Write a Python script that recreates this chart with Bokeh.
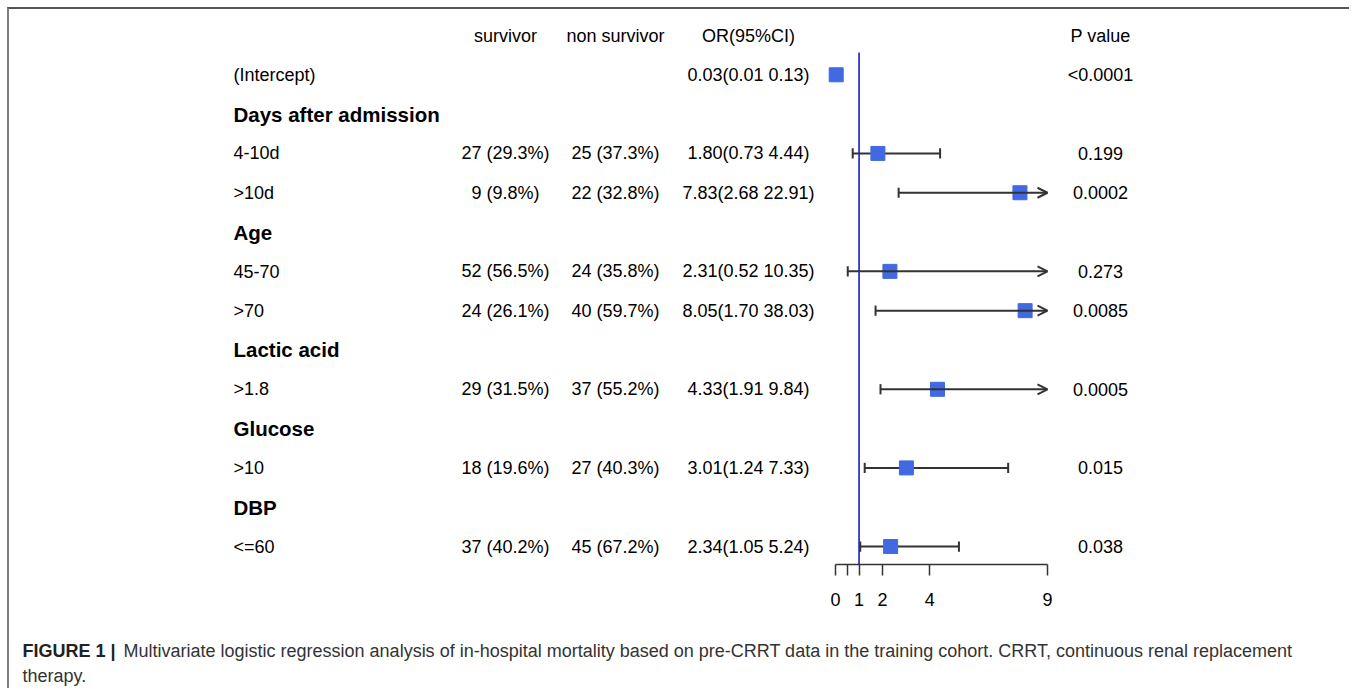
from bokeh.plotting import figure
from bokeh.layouts import column
from bokeh.models import (Range1d, LinearAxis, FixedTicker, ColumnDataSource,
                          Arrow, OpenHead)
from bokeh.core.properties import value
from bokeh.embed import file_html
from bokeh.resources import INLINE

# ---------------- data ----------------
headers = ["survivor", "non survivor", "OR(95%CI)", "P value"]
row_labels = ["(Intercept)", "Days after admission", "4-10d", ">10d", "Age",
              "45-70", ">70", "Lactic acid", " >1.8", "Glucose", " >10", "DBP", "<=60"]
row_bold = [False, True, False, False, True, False, False, True, False, True, False, True, False]
survivor = ["", "", "27 (29.3%)", "9 (9.8%)", "", "52 (56.5%)", "24 (26.1%)", "",
            "29 (31.5%)", "", "18 (19.6%)", "", "37 (40.2%)"]
non_survivor = ["", "", "25 (37.3%)", "22 (32.8%)", "", "24 (35.8%)", "40 (59.7%)", "",
                "37 (55.2%)", "", "27 (40.3%)", "", "45 (67.2%)"]
p_values = ["<0.0001", "", "0.199", "0.0002", "", "0.273", "0.0085", "",
            "0.0005", "", "0.015", "", "0.038"]

# estimates (row index in row_labels)
est_rows = [0, 2, 3, 5, 6, 8, 10, 12]
or_est = [0.03, 1.80, 7.83, 2.31, 8.05, 4.33, 3.01, 2.34]
or_low = [0.01, 0.73, 2.68, 0.52, 1.70, 1.91, 1.24, 1.05]
or_high = [0.13, 4.44, 22.91, 10.35, 38.03, 9.84, 7.33, 5.24]

axis_ticks = [0, 0.5, 1, 2, 4, 9]
axis_max = 9

caption_bold = "FIGURE 1 |"
caption_line1 = ("Multivariate logistic regression analysis of in-hospital mortality based on "
                 "pre-CRRT data in the training cohort. CRRT, continuous renal replacement")
caption_line2 = "therapy."

# ---------------- layout geometry ----------------
W = 1340
H1, frame_h = 611, 555
H2 = 68
s = 212 / 9.0            # px per OR unit
x0_px = 826              # canvas px of OR = 0
row_h = 39.31
row0_px = 26             # canvas px (from top) of header row


def xd(px):              # canvas px -> data x
    return (px - x0_px) / s


def yd(px):              # canvas px from top -> row coordinate
    return (px - row0_px) / row_h


FONT = "Liberation Sans"
p = figure(width=W, height=H1, output_backend="svg", toolbar_location=None,
           x_range=Range1d(xd(0), xd(W)),
           y_range=Range1d(yd(frame_h), yd(0)),
           x_axis_location=None, y_axis_location=None,
           min_border_left=0, min_border_right=0, min_border_top=0,
           min_border_bottom=H1 - frame_h)
p.xgrid.visible = False
p.ygrid.visible = False
p.outline_line_color = None
p.background_fill_color = "white"
p.border_fill_color = "white"

# ---------------- table text ----------------
n = len(row_labels)
rows = list(range(1, n + 1))
col_survivor = xd(496)
col_nonsurv = xd(606)
col_or = xd(739)
col_p = xd(1091)
col_label = xd(224)

p.text(x=[col_survivor, col_nonsurv, col_or, col_p], y=[0, 0, 0, 0], text=headers,
       text_align="center", text_baseline="middle", text_font=value(FONT),
       text_font_size="18px", text_color="black")

reg_rows = [r for r, b in zip(rows, row_bold) if not b]
reg_labels = [l for l, b in zip(row_labels, row_bold) if not b]
bold_rows = [r for r, b in zip(rows, row_bold) if b]
bold_labels = [l for l, b in zip(row_labels, row_bold) if b]
p.text(x=[col_label] * len(reg_rows), y=reg_rows, text=reg_labels, text_align="left",
       text_baseline="middle", text_font=value(FONT), text_font_size="18px", text_color="black")
p.text(x=[col_label] * len(bold_rows), y=bold_rows, text=bold_labels, text_align="left",
       text_baseline="middle", text_font=value(FONT), text_font_size="20.5px",
       text_font_style="bold", text_color="black")

p.text(x=[col_survivor] * n, y=rows, text=survivor, text_align="center",
       text_baseline="middle", text_font=value(FONT), text_font_size="18px", text_color="black")
p.text(x=[col_nonsurv] * n, y=rows, text=non_survivor, text_align="center",
       text_baseline="middle", text_font=value(FONT), text_font_size="18px", text_color="black")
p.text(x=[col_p] * n, y=rows, text=p_values, text_align="center",
       text_baseline="middle", text_font=value(FONT), text_font_size="18px", text_color="black")

or_text = [f"{e:.2f}({lo:.2f} {hi:.2f})" for e, lo, hi in zip(or_est, or_low, or_high)]
est_y = [r + 1 for r in est_rows]
p.text(x=[col_or] * len(est_y), y=est_y, text=or_text, text_align="center",
       text_baseline="middle", text_font=value(FONT), text_font_size="18px", text_color="black")

# ---------------- forest ----------------
LINE = "#333333"
lo_draw = [max(v, 0) for v in or_low]
hi_draw = [min(v, axis_max) for v in or_high]
clipped = [v > axis_max for v in or_high]

# reference line at OR = 1
p.segment(x0=[1], y0=[yd(43)], x1=[1], y1=[yd(frame_h)], line_color="#1a1ac8", line_width=1.6)

in_idx = [i for i, c in enumerate(clipped) if not c]
p.segment(x0=[lo_draw[i] for i in in_idx], y0=[est_y[i] for i in in_idx],
          x1=[hi_draw[i] for i in in_idx], y1=[est_y[i] for i in in_idx],
          line_color=LINE, line_width=2)
cap = 0.13
p.segment(x0=lo_draw, y0=[y - cap for y in est_y], x1=lo_draw, y1=[y + cap for y in est_y],
          line_color=LINE, line_width=2)
p.segment(x0=[hi_draw[i] for i in in_idx], y0=[est_y[i] - cap for i in in_idx],
          x1=[hi_draw[i] for i in in_idx], y1=[est_y[i] + cap for i in in_idx],
          line_color=LINE, line_width=2)

out_idx = [i for i, c in enumerate(clipped) if c]
arr_src = ColumnDataSource(dict(xs=[lo_draw[i] for i in out_idx],
                                xe=[hi_draw[i] for i in out_idx],
                                y=[est_y[i] for i in out_idx]))
p.add_layout(Arrow(x_start="xs", y_start="y", x_end="xe", y_end="y", source=arr_src,
                   line_color=LINE, line_width=2,
                   end=OpenHead(size=10, line_color=LINE, line_width=2)))

p.scatter(x=or_est, y=est_y, marker="square", size=14, fill_color="#4169e1",
          line_color="#4169e1")

# ---------------- axis ----------------
ax = LinearAxis(ticker=FixedTicker(ticks=axis_ticks), bounds=(0, axis_max),
                major_label_overrides={0.5: ""},
                axis_line_color=LINE, axis_line_width=1.5,
                major_tick_line_color=LINE, major_tick_line_width=1.5,
                major_tick_out=11, major_tick_in=0,
                minor_tick_out=0, minor_tick_in=0,
                major_label_text_font=FONT, major_label_text_font_size="18px",
                major_label_text_color="black", major_label_standoff=17)
p.add_layout(ax, "below")

# ---------------- caption ----------------
c = figure(width=W, height=H2, output_backend="svg", toolbar_location=None,
           x_range=Range1d(0, W), y_range=Range1d(H2, 0),
           x_axis_location=None, y_axis_location=None,
           min_border_left=0, min_border_right=0, min_border_top=0, min_border_bottom=0)
c.xgrid.visible = False
c.ygrid.visible = False
c.outline_line_color = None
c.text(x=[13], y=[30], text=[caption_bold], text_font=value(FONT), text_font_size="18px",
       text_font_style="bold", text_baseline="middle", text_color="#222222")
c.text(x=[114, 13], y=[30, 55], text=[caption_line1, caption_line2], text_font=value(FONT),
       text_font_size="18px", text_baseline="middle", text_color="#333333")

layout = column(p, c, styles={"margin-left": "7px", "margin-top": "7px",
                              "border-top": "2px solid #555555",
                              "border-left": "2px solid #808080"})

open("out.html", "w").write(file_html(layout, INLINE))
